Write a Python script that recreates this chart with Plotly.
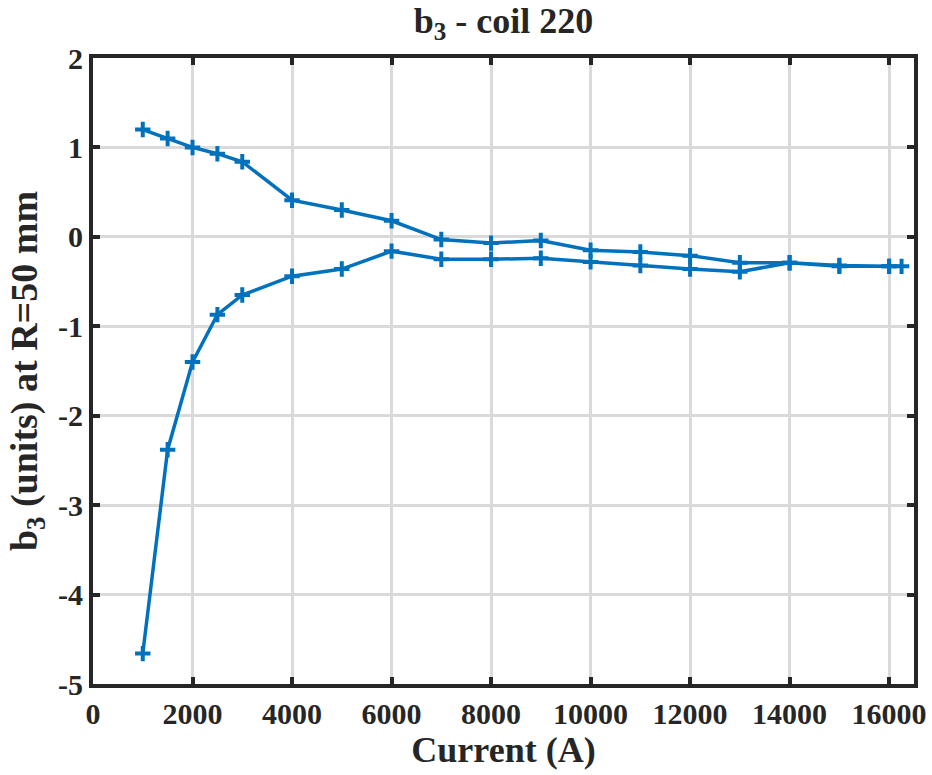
import plotly.graph_objects as go

# Ramp-up branch (lower curve)
current_up = [1000, 1500, 2000, 2500, 3000, 4000, 5000, 6000, 7000, 8000,
              9000, 10000, 11000, 12000, 13000, 14000, 15000, 16000, 16250]
b3_up = [-4.66, -2.38, -1.40, -0.87, -0.65, -0.44, -0.36, -0.16, -0.25, -0.25,
         -0.24, -0.28, -0.32, -0.36, -0.39, -0.29, -0.33, -0.33, -0.33]

# Ramp-down branch (upper curve)
current_down = [16000, 15000, 14000, 13000, 12000, 11000, 10000, 9000, 8000,
                7000, 6000, 5000, 4000, 3000, 2500, 2000, 1500, 1000]
b3_down = [-0.33, -0.32, -0.29, -0.29, -0.21, -0.17, -0.15, -0.04, -0.07,
           -0.03, 0.18, 0.30, 0.41, 0.84, 0.93, 1.00, 1.10, 1.20]

x_ticks = [0, 2000, 4000, 6000, 8000, 10000, 12000, 14000, 16000]
x_labels = ["0", "2000", "4000", "6000", "8000", "10000", "12000", "14000", "16000"]
y_ticks = [-5, -4, -3, -2, -1, 0, 1, 2]
y_labels = ["-5", "-4", "-3", "-2", "-1", "0", "1", "2"]

BLUE = "#0072BD"
DARK = "#262626"
FONT = "Liberation Serif"

fig = go.Figure()
fig.add_trace(go.Scatter(
    x=current_up + current_down,
    y=b3_up + b3_down,
    mode="lines+markers",
    line=dict(color=BLUE, width=3.5),
    marker=dict(symbol="cross-thin", size=11, color=BLUE,
                line=dict(color=BLUE, width=4)),
    showlegend=False,
))

axis_common = dict(
    showline=True, linecolor=DARK, linewidth=4, mirror="allticks",
    ticks="inside", ticklen=7, tickwidth=4, tickcolor=DARK,
    showgrid=True, gridcolor="#dadada", gridwidth=2.5,
    zeroline=False, automargin=False,
    tickfont=dict(family=FONT, size=30, color=DARK, weight="bold"),
)

fig.update_layout(
    width=932, height=775,
    margin=dict(l=93, r=18, t=58, b=91),
    plot_bgcolor="white", paper_bgcolor="white",
    font=dict(family=FONT, color=DARK),
    title=dict(text="<b>b<sub>3</sub> - coil 220</b>", xref="paper", x=0.5,
               xanchor="center", yref="container", y=0.974, yanchor="middle",
               automargin=False,
               font=dict(family=FONT, size=36, color=DARK)),
    xaxis=dict(range=[0, 16500], tickvals=x_ticks, ticktext=x_labels,
               title=dict(text="<b>Current (A)</b>", standoff=4,
                          font=dict(family=FONT, size=36, color=DARK)),
               **axis_common),
    yaxis=dict(range=[-5, 2], tickvals=y_ticks, ticktext=y_labels,
               title=dict(text="<b>b<sub>3</sub> (units) at R=50 mm</b>", standoff=10,
                          font=dict(family=FONT, size=38, color=DARK)),
               **axis_common),
)

fig.write_html("out.html")
